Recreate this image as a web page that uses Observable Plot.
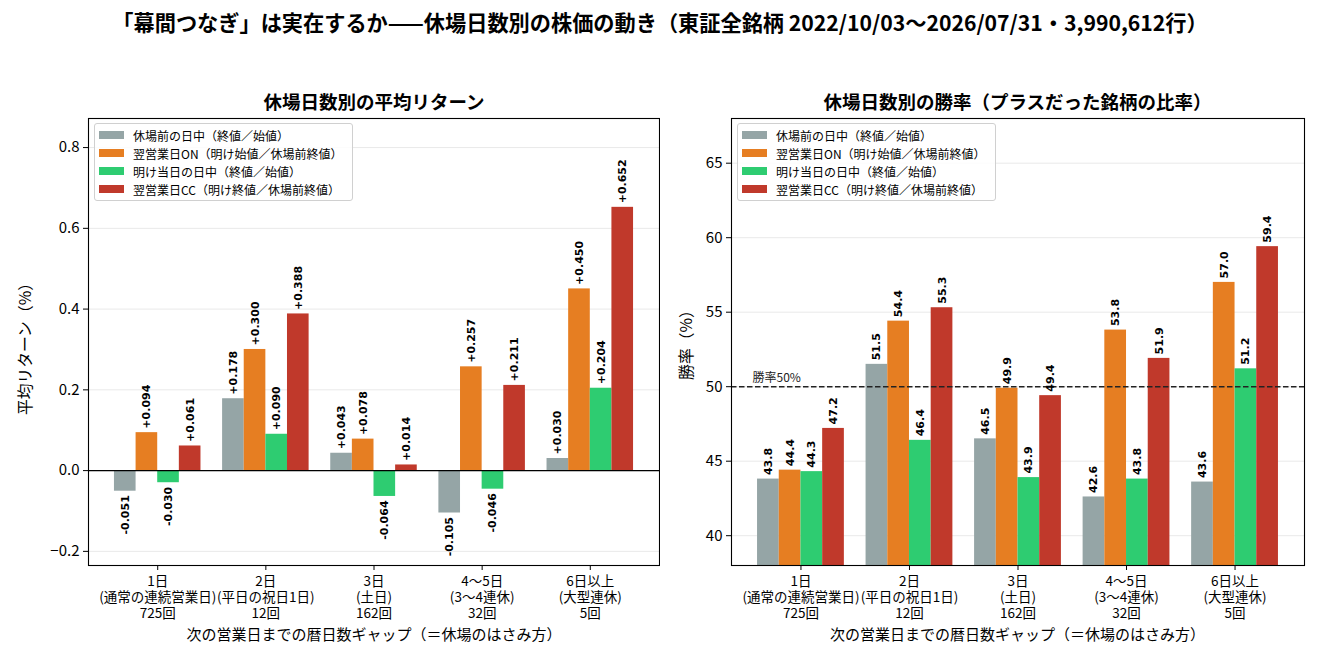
<!DOCTYPE html>
<html><head><meta charset="utf-8">
<script src="https://cdn.jsdelivr.net/npm/d3@7"></script>
<script src="https://cdn.jsdelivr.net/npm/@observablehq/plot@0.6"></script>
<style>
body{margin:0;background:#fff;font-family:'Noto Sans CJK JP',sans-serif;color:#000;}
#root{position:relative;width:1320px;height:660px;overflow:hidden;background:#fff;}
.abs{position:absolute;white-space:nowrap;}
.title{font-weight:bold;font-size:21.2px;line-height:24px;left:0;width:1320px;text-align:center;top:10px;}
.sub{font-weight:bold;font-size:18.5px;line-height:22px;text-align:center;top:90px;}
.xt{font-size:15px;line-height:20px;text-align:center;top:624px;}
.yt{font-size:15.8px;line-height:20px;transform:translate(-50%,-50%) rotate(-90deg);}
.legend{border:1px solid #d0d0d0;border-radius:3px;background:rgba(255,255,255,0.85);box-sizing:border-box;padding:2px 6px 2px 4px;font-size:12px;}
.row{height:18px;display:flex;align-items:center;}
.sw{width:25px;height:8px;margin-right:9px;flex:none;}
</style></head><body><div id="root"></div><script>
// ---- data ----
const gapLabels = ["1日", "2日", "3日", "4〜5日", "6日以上"];
const gapNotes = ["(通常の連続営業日)", "(平日の祝日1日)", "(土日)", "(3〜4連休)", "(大型連休)"];
const gapCounts = ["725回", "12回", "162回", "32回", "5回"];
const seriesNames = ["休場前の日中（終値／始値）", "翌営業日ON（明け始値／休場前終値）", "明け当日の日中（終値／始値）", "翌営業日CC（明け終値／休場前終値）"];
const seriesColors = ["#95a5a6", "#e67e22", "#2ecc71", "#c0392b"];

// mean return (%)
const retPre = [-0.051, 0.178, 0.043, -0.105, 0.030];
const retON = [0.094, 0.300, 0.078, 0.257, 0.450];
const retDay = [-0.030, 0.090, -0.064, -0.046, 0.204];
const retCC = [0.061, 0.388, 0.014, 0.211, 0.652];

// win rate (%)
const winPre = [43.8, 51.5, 46.5, 42.6, 43.6];
const winON = [44.4, 54.4, 49.9, 53.8, 57.0];
const winDay = [44.3, 46.4, 43.9, 43.8, 51.2];
const winCC = [47.2, 55.3, 49.4, 51.9, 59.4];

const retTicks = [-0.2, 0.0, 0.2, 0.4, 0.6, 0.8];
const winTicks = [40, 45, 50, 55, 60, 65];
const refLine = [{value: 50, label: "勝率50%"}];

const titleText = "「幕間つなぎ」は実在するか——休場日数別の株価の動き（東証全銘柄 2022/10/03〜2026/07/31・3,990,612行）";
const leftTitle = "休場日数別の平均リターン";
const rightTitle = "休場日数別の勝率（プラスだった銘柄の比率）";
const xTitle = "次の営業日までの暦日数ギャップ（＝休場のはさみ方）";
const leftYTitle = "平均リターン（%）";
const rightYTitle = "勝率（%）";

// ---- build ----
const FONT = "'Noto Sans CJK JP', sans-serif";
const BW = 0.2;
function rowsOf(seriesArrays) {
  const out = [];
  seriesArrays.forEach((arr, si) => arr.forEach((v, gi) => out.push({gi, si, series: seriesNames[si], v})));
  return out;
}
const pos = d => d.gi + (d.si - 1.5) * BW;
const xTickFmt = i => gapLabels[i] + "\n" + gapNotes[i] + "\n" + gapCounts[i];
const retRows = rowsOf([retPre, retON, retDay, retCC]);
const winRows = rowsOf([winPre, winON, winDay, winCC]);
const labelStyle = {fontWeight: "bold", fontSize: 11, fontFamily: "'DejaVu Sans', sans-serif", rotate: -90, fill: "#000"};

function common(ticks, fmt) {
  return [
    Plot.axisY({ticks, tickFormat: fmt, tickSize: 5, tickPadding: 4, label: null, fontSize: 15}),
    Plot.axisX({ticks: [0, 1, 2, 3, 4], tickFormat: xTickFmt, tickSize: 5, tickPadding: 4, label: null, fontSize: 13.5, lineHeight: 1.2}),
    Plot.frame({stroke: "#000", strokeWidth: 1.1})
  ];
}

const left = Plot.plot({
  width: 660, height: 660,
  marginLeft: 88, marginRight: 1, marginTop: 118, marginBottom: 95,
  style: {fontFamily: FONT, background: "transparent", color: "#000"},
  x: {domain: [-0.64, 4.64]},
  y: {domain: [-0.235, 0.872]},
  color: {domain: seriesNames, range: seriesColors},
  marks: [
    Plot.gridY(retTicks, {stroke: "#000", strokeOpacity: 0.09}),
    Plot.rectY(retRows, {x1: d => pos(d) - BW / 2, x2: d => pos(d) + BW / 2, y1: d => 0, y2: "v", fill: "series"}),
    Plot.ruleY([0], {stroke: "#000", strokeWidth: 1.1}),
    Plot.text(retRows.filter(d => d.v >= 0), {x: pos, y: "v", text: d => "+" + d.v.toFixed(3), textAnchor: "start", dy: -4, ...labelStyle}),
    Plot.text(retRows.filter(d => d.v < 0), {x: pos, y: "v", text: d => d.v.toFixed(3), textAnchor: "end", dy: 4, ...labelStyle}),
    ...common(retTicks, d3.format(".1f"))
  ]
});

const right = Plot.plot({
  width: 660, height: 660,
  marginLeft: 71, marginRight: 16, marginTop: 118, marginBottom: 95,
  style: {fontFamily: FONT, background: "transparent", color: "#000"},
  x: {domain: [-0.64, 4.64]},
  y: {domain: [38, 68]},
  color: {domain: seriesNames, range: seriesColors},
  marks: [
    Plot.gridY(winTicks, {stroke: "#000", strokeOpacity: 0.09}),
    Plot.rectY(winRows, {x1: d => pos(d) - BW / 2, x2: d => pos(d) + BW / 2, y1: d => 0, y2: "v", fill: "series", clip: true}),
    Plot.ruleY(refLine, {y: "value", stroke: "#222", strokeWidth: 1.4, strokeDasharray: "5.5,2.5"}),
    Plot.text(refLine, {y: "value", text: "label", frameAnchor: "left", dx: 21, dy: -5, textAnchor: "start", lineAnchor: "bottom", fontSize: 12, fill: "#222"}),
    Plot.text(winRows, {x: pos, y: "v", text: d => d.v.toFixed(1), textAnchor: "start", dy: -4, ...labelStyle}),
    ...common(winTicks, d3.format("d"))
  ]
});

const root = document.getElementById("root");
function place(node, x, y) {
  const w = document.createElement("div");
  w.className = "abs"; w.style.left = x + "px"; w.style.top = y + "px";
  w.appendChild(node); root.appendChild(w); return w;
}
function textDiv(cls, txt, css) {
  const d = document.createElement("div");
  d.className = "abs " + cls; d.textContent = txt; Object.assign(d.style, css || {});
  root.appendChild(d); return d;
}
place(left, 0, 0);
place(right, 660, 0);
textDiv("title", titleText);
textDiv("sub", leftTitle, {left: "88px", width: "572px"});
textDiv("sub", rightTitle, {left: "731px", width: "573px"});
textDiv("xt", xTitle, {left: "88px", width: "572px"});
textDiv("xt", xTitle, {left: "731px", width: "573px"});
textDiv("yt", leftYTitle, {left: "25px", top: "345px"});
textDiv("yt", rightYTitle, {left: "686px", top: "341px"});

function legend(x) {
  const box = document.createElement("div");
  box.className = "abs legend";
  Object.assign(box.style, {left: x + "px", top: "123px", width: "259px"});
  seriesNames.forEach((n, i) => {
    const r = document.createElement("div"); r.className = "row";
    const s = document.createElement("div"); s.className = "sw"; s.style.background = seriesColors[i];
    const t = document.createElement("span"); t.textContent = n;
    r.appendChild(s); r.appendChild(t); box.appendChild(r);
  });
  root.appendChild(box);
}
legend(94);
legend(737);
</script></body></html>
